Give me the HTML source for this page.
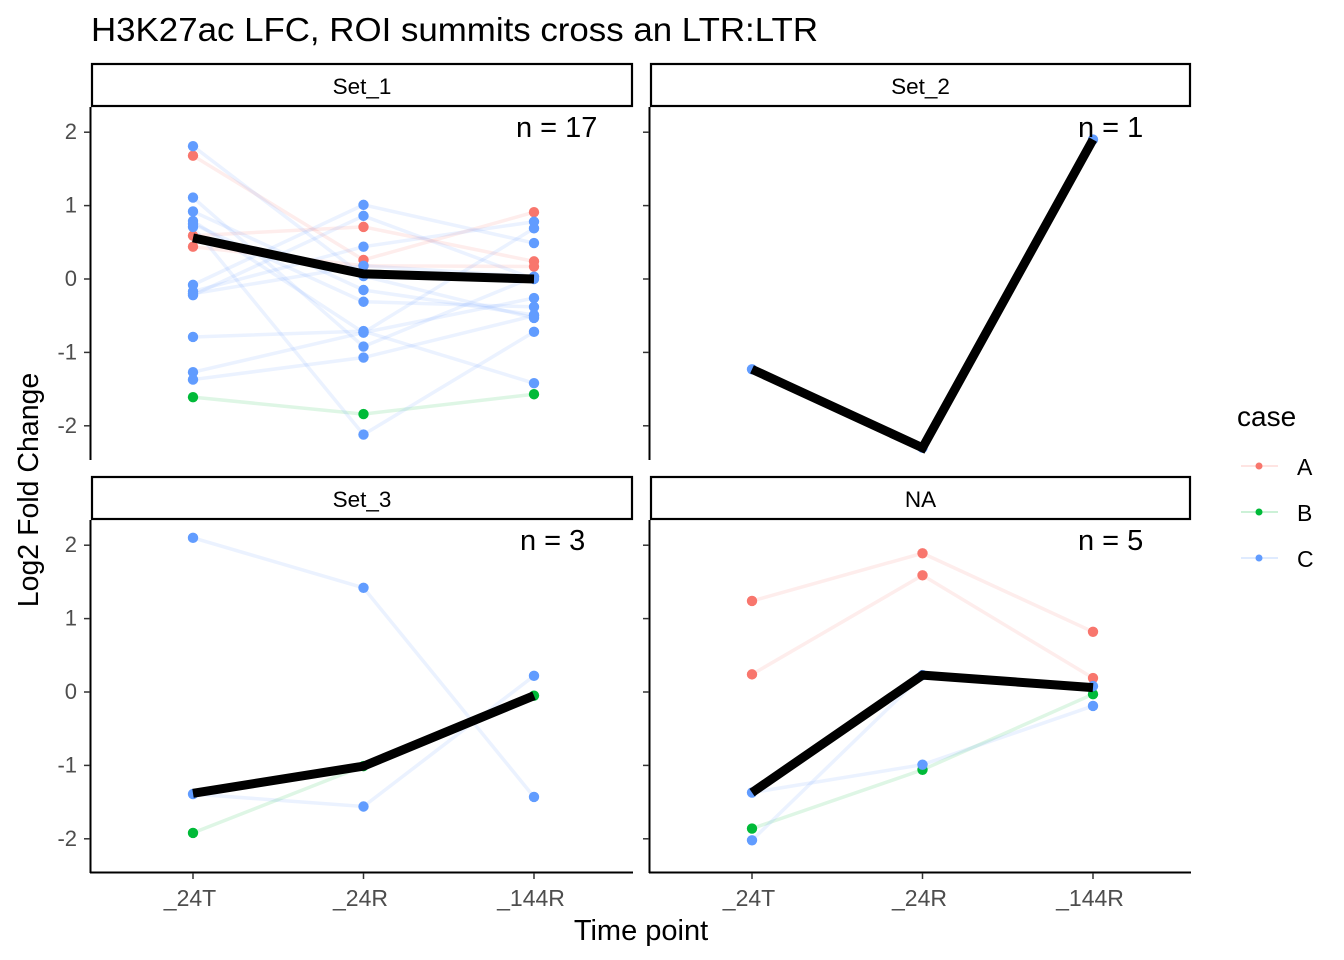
<!DOCTYPE html>
<html><head><meta charset="utf-8"><style>
body{margin:0;background:#fff;}
svg{display:block;font-family:"Liberation Sans",Arial,sans-serif;}
</style></head><body>
<svg id="chart" width="1344" height="960" viewBox="0 0 1344 960">
<text x="91" y="41" font-size="33" textLength="727" lengthAdjust="spacingAndGlyphs" fill="#000">H3K27ac LFC, ROI summits cross an LTR:LTR</text>
<text x="641" y="940" font-size="29" text-anchor="middle">Time point</text>
<text transform="translate(38,490) rotate(-90)" font-size="28.5" text-anchor="middle">Log2 Fold Change</text>
<g id="legend">
<text x="1237" y="426" font-size="28">case</text>
</g>
<g id="panels"></g>
</svg>
<script>
const timepoints = ["_24T","_24R","_144R"];
const yTicks = [-2,-1,0,1,2];
const caseNames = ["A","B","C"];
const colors = {A:"#F8766D",B:"#00BA38",C:"#619CFF"};
const panelNames = ["Set_1","Set_2","Set_3","NA"];
const panelN = ["n = 17","n = 1","n = 3","n = 5"];

const set1Cases = ["A","A","A","B","C","C","C","C","C","C","C","C","C","C","C","C","C"];
const set1Values = [
 [1.68,0.26,0.91],[0.59,0.71,0.24],[0.44,0.18,0.17],[-1.61,-1.84,-1.57],
 [1.81,0.04,-0.53],[1.11,-0.92,0.03],[0.92,-0.15,-0.49],[0.79,-0.73,0.69],
 [0.71,-2.12,-0.72],[0.75,-0.31,-0.38],[-0.08,1.01,0.49],[-0.17,0.44,0.78],
 [-0.22,0.86,0.0],[-0.79,-0.71,-1.42],[-1.27,-0.73,-0.26],[-1.37,-1.07,-0.5],[-0.2,0.18,0.03]
];
const set1Median = [0.56,0.07,0.0];
const set2Cases = ["C"];
const set2Values = [[-1.23,-2.3,1.9]];
const set2Median = [-1.23,-2.3,1.9];
const set3Cases = ["C","C","B"];
const set3Values = [[2.1,1.42,-1.43],[-1.39,-1.56,0.22],[-1.92,-1.01,-0.05]];
const set3Median = [-1.38,-1.01,-0.05];
const naCases = ["A","A","B","C","C"];
const naValues = [[1.24,1.89,0.82],[0.24,1.59,0.19],[-1.86,-1.06,-0.03],[-1.37,-0.99,-0.19],[-2.02,0.23,0.08]];
const naMedian = [-1.37,0.23,0.06];

const panelCases=[set1Cases,set2Cases,set3Cases,naCases];
const panelValues=[set1Values,set2Values,set3Values,naValues];
const panelMedians=[set1Median,set2Median,set3Median,naMedian];

const NS="http://www.w3.org/2000/svg";
function mk(tag,attrs,parent){const e=document.createElementNS(NS,tag);for(const k in attrs)e.setAttribute(k,attrs[k]);parent.appendChild(e);return e;}
const root=document.getElementById('panels');
const layout=[{x0:91,x1:633,top:63},{x0:650,x1:1191,top:63},{x0:91,x1:633,top:476},{x0:650,x1:1191,top:476}];
panelNames.forEach((name,pi)=>{
  const L=layout[pi];
  const pTop=L.top+44, pBot=L.top+397;
  const zeroY=L.top+216, unit=73.4;
  const yS=v=>zeroY-v*unit;
  const xS=i=>L.x0+102+i*170.5;
  const g=mk('g',{},root);
  
  
  const strip=mk('rect',{x:L.x0+1,y:L.top+1,width:L.x1-L.x0-2,height:42,fill:'#fff',stroke:'#000','stroke-width':2.2},g);
  
  
  const st=mk('text',{x:(L.x0+L.x1)/2,y:L.top+31,'font-size':22.5,'text-anchor':'middle'},g);st.textContent=name;
  
  
  const ya=mk('line',{x1:L.x0-0.5,x2:L.x0-0.5,y1:pTop,y2:pBot,stroke:'#000','stroke-width':2},g);
  
  
  yTicks.forEach(t=>{
    if(yS(t)<pTop||yS(t)>pBot)return;
    mk('line',{x1:L.x0-7,x2:L.x0-1,y1:yS(t),y2:yS(t),stroke:'#333','stroke-width':1.5},g);
    if(pi%2===0){
      const tl=mk('text',{x:L.x0-14,y:yS(t)+7,'font-size':22,fill:'#4D4D4D','text-anchor':'end'},g);tl.textContent=t;
      
      
    }
  });
  if(pi>=2){
    const xa=mk('line',{x1:L.x0-1,x2:L.x1,y1:pBot-0.5,y2:pBot-0.5,stroke:'#000','stroke-width':2},g);
    
    
    timepoints.forEach((t,i)=>{
      mk('line',{x1:xS(i),x2:xS(i),y1:pBot,y2:pBot+6,stroke:'#333','stroke-width':1.5},g);
      const tl=mk('text',{x:xS(i)-3,y:pBot+33,'font-size':23,fill:'#4D4D4D','text-anchor':'middle'},g);tl.textContent=t;
      
      
    });
  }
  const cases=panelCases[pi], vals=panelValues[pi];
  vals.forEach((s,si)=>{
    const pts=s.map((v,i)=>xS(i)+','+yS(v)).join(' ');
    const pl=mk('polyline',{points:pts,fill:'none',stroke:colors[cases[si]],'stroke-opacity':0.13,'stroke-width':3.5},g);
    
    
  });
  vals.forEach((s,si)=>{
    s.forEach((v,i)=>{
      const c=mk('circle',{cx:xS(i),cy:yS(v),r:5.2,fill:colors[cases[si]]},g);
      
      
    });
  });
  const med=panelMedians[pi];
  const ml=mk('polyline',{points:med.map((v,i)=>xS(i)+','+yS(v)).join(' '),fill:'none',stroke:'#000','stroke-width':9},g);
  
  
  const nx=[516,1078,520,1078][pi];
  const nt=mk('text',{x:nx,y:L.top+74,'font-size':29},g);nt.textContent=panelN[pi];
  
  
});
const lg=document.getElementById('legend');
caseNames.forEach((c,i)=>{
  const y=466+i*46;
  const e=mk('g',{},lg);
  
  
  mk('line',{x1:1241,x2:1278,y1:y,y2:y,stroke:colors[c],'stroke-opacity':0.2,'stroke-width':2},e);
  mk('circle',{cx:1259,cy:y,r:3.5,fill:colors[c]},e);
  const t=mk('text',{x:1297,y:y+9,'font-size':23},e);t.textContent=c;
});
</script>
</body></html>
